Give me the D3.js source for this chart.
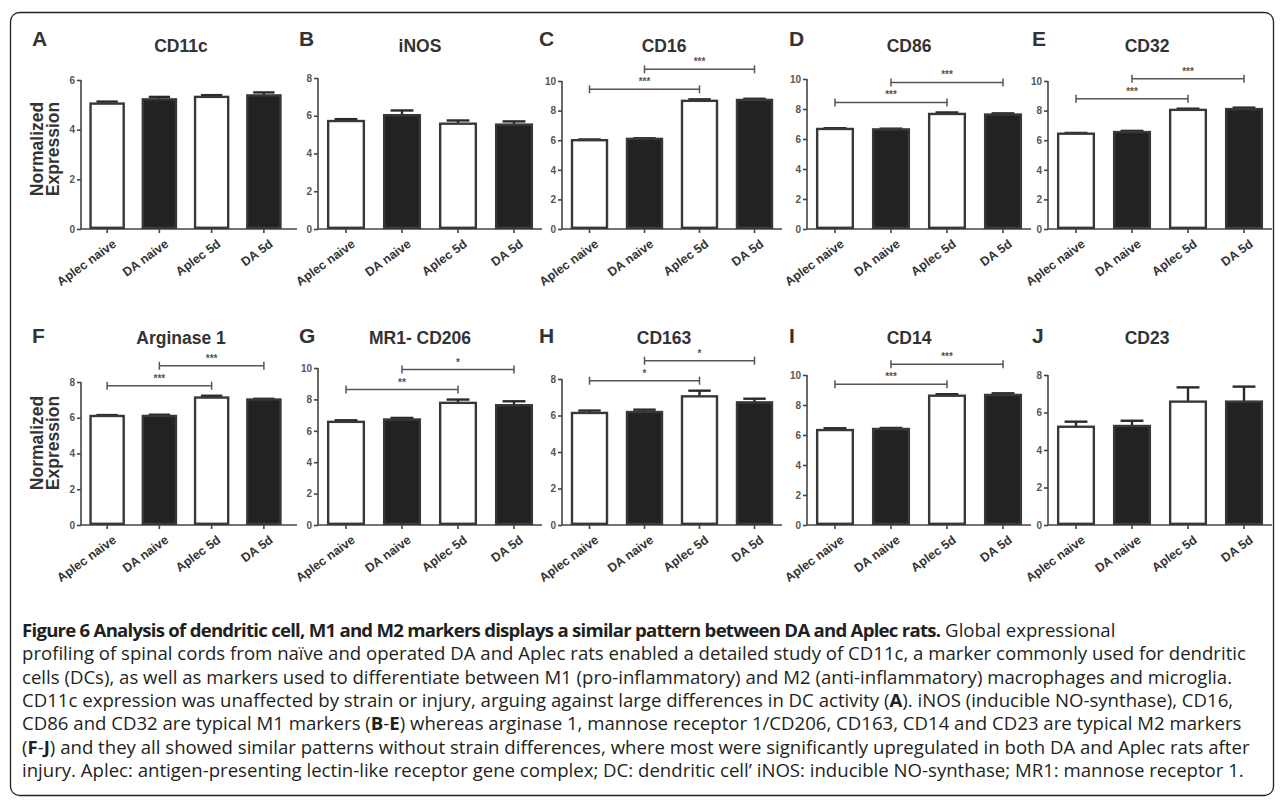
<!DOCTYPE html>
<html>
<head>
<meta charset="utf-8">
<script src="https://cdn.jsdelivr.net/npm/d3@7"></script>
<style>
body { margin: 0; background: #fff; }
svg { display: block; }
</style>
</head>
<body>
<svg id="fig" width="1284" height="800"></svg>
<script>
// groups on the x axis of every panel
var groups = ["Aplec naive", "DA naive", "Aplec 5d", "DA 5d"];
var letters = ["A", "B", "C", "D", "E", "F", "G", "H", "I", "J"];
var titles = ["CD11c", "iNOS", "CD16", "CD86", "CD32", "Arginase 1", "MR1- CD206", "CD163", "CD14", "CD23"];
var yMax = [6, 8, 10, 10, 10, 8, 10, 8, 10, 8];

// normalized expression, mean per group
var means = [
  [5.05, 5.22, 5.32, 5.38],
  [5.72, 6.03, 5.58, 5.53],
  [6.00, 6.09, 8.66, 8.72],
  [6.67, 6.64, 7.67, 7.63],
  [6.44, 6.55, 8.05, 8.10],
  [6.10, 6.10, 7.13, 7.02],
  [6.57, 6.72, 7.78, 7.63],
  [6.14, 6.19, 7.05, 6.72],
  [6.33, 6.40, 8.62, 8.67],
  [5.24, 5.28, 6.58, 6.58]
];
// error bar (upper half only)
var errs = [
  [0.08, 0.10, 0.07, 0.12],
  [0.10, 0.25, 0.17, 0.17],
  [0.05, 0.04, 0.10, 0.08],
  [0.05, 0.05, 0.10, 0.08],
  [0.05, 0.08, 0.08, 0.10],
  [0.05, 0.07, 0.10, 0.04],
  [0.10, 0.10, 0.21, 0.25],
  [0.13, 0.13, 0.31, 0.20],
  [0.12, 0.07, 0.10, 0.11],
  [0.27, 0.28, 0.76, 0.80]
];
// significance: Aplec naive vs Aplec 5d, DA naive vs DA 5d
var sigLow  = ["", "", "***", "***", "***", "***", "**", "*", "***", ""];
var sigHigh = ["", "", "***", "***", "***", "***", "*",  "*", "***", ""];

var caption = [
  "**Figure 6 Analysis of dendritic cell, M1 and M2 markers displays a similar pattern between DA and Aplec rats.** Global expressional",
  "profiling of spinal cords from naïve and operated DA and Aplec rats enabled a detailed study of CD11c, a marker commonly used for dendritic",
  "cells (DCs), as well as markers used to differentiate between M1 (pro-inflammatory) and M2 (anti-inflammatory) macrophages and microglia.",
  "CD11c expression was unaffected by strain or injury, arguing against large differences in DC activity (**A**). iNOS (inducible NO-synthase), CD16,",
  "CD86 and CD32 are typical M1 markers (**B**-**E**) whereas arginase 1, mannose receptor 1/CD206, CD163, CD14 and CD23 are typical M2 markers",
  "(**F**-**J**) and they all showed similar patterns without strain differences, where most were significantly upregulated in both DA and Aplec rats after",
  "injury. Aplec: antigen-presenting lectin-like receptor gene complex; DC: dendritic cell’ iNOS: inducible NO-synthase; MR1: mannose receptor 1."
];

// layout of the 5 x 2 grid
var colX0 = [81, 318, 562, 807, 1048],
    colBandEnd = [290, 542, 782, 1031, 1272],
    colAxisEnd = [297, 542, 782, 1031, 1272],
    colTitle = [181, 420, 664, 909, 1147],
    colLetter = [32, 299, 539, 789, 1032];
var rowBase = [229, 525];
var yTop = [80, 78, 81, 79, 81, 382, 368, 379, 375, 375];

var font = "'Liberation Sans', Arial, Helvetica, sans-serif";
var ink = "#333";

var svg = d3.select("#fig");

svg.append("rect")
  .attr("x", 10.5).attr("y", 12.5)
  .attr("width", 1263).attr("height", 783)
  .attr("rx", 9)
  .attr("fill", "none")
  .attr("stroke", "#222")
  .attr("stroke-width", 1.3);

letters.forEach(function(letter, p) {
  var col = p % 5, row = Math.floor(p / 5);
  var base = rowBase[row];

  var x = d3.scaleBand()
    .domain(groups)
    .range([colX0[col], colBandEnd[col]])
    .paddingInner(0.32)
    .paddingOuter(0.16);

  var y = d3.scaleLinear()
    .domain([0, yMax[p]])
    .range([base, yTop[p]]);

  var g = svg.append("g").attr("class", "panel");

  // panel letter and title
  g.append("text")
    .attr("x", colLetter[col])
    .attr("y", base - 183 + (row == 1 ? 1 : 0))
    .attr("font-family", font).attr("font-weight", "bold")
    .attr("font-size", 21).attr("fill", ink)
    .text(letter);

  g.append("text")
    .attr("x", colTitle[col])
    .attr("y", base - 177 - (row == 1 ? 4 : 0))
    .attr("text-anchor", "middle")
    .attr("font-family", font).attr("font-weight", "bold")
    .attr("font-size", 17.5).attr("fill", ink)
    .text(titles[p]);

  // y axis
  var yAxis = d3.axisLeft(y)
    .tickValues(d3.range(0, yMax[p] + 1, 2))
    .tickSize(4)
    .tickPadding(2)
    .tickFormat(d3.format("d"));

  var ya = g.append("g")
    .attr("transform", "translate(" + colX0[col] + ",0)")
    .call(yAxis);
  ya.select(".domain").attr("d", "M0," + base + "V" + yTop[p]);

  // x axis line and ticks
  g.append("line")
    .attr("x1", colX0[col]).attr("x2", colAxisEnd[col])
    .attr("y1", base).attr("y2", base);

  var xa = g.append("g")
    .attr("transform", "translate(0," + base + ")")
    .call(d3.axisBottom(x).tickSize(4).tickPadding(0));
  xa.select(".domain").remove();
  xa.selectAll(".tick text")
    .attr("text-anchor", "end")
    .attr("transform", "translate(5,10) rotate(-36)")
    .attr("dy", "0.35em")
    .attr("font-size", 12.5)
    .attr("fill", ink);

  g.selectAll(".tick text")
    .attr("font-family", font).attr("font-weight", "bold");
  ya.selectAll(".tick text").attr("font-size", 10).attr("fill", "#555");
  g.selectAll(".tick line, .domain, line")
    .attr("stroke", "#444").attr("stroke-width", 1.6);

  var bars = groups.map(function(grp, i) {
    return {grp: grp, i: i, v: means[p][i], e: errs[p][i]};
  });

  // error bars (drawn first, bar covers the lower part)
  var eb = g.selectAll(".err").data(bars).enter().append("g").attr("class", "err");
  eb.append("line")
    .attr("x1", function(d) { return x(d.grp) + x.bandwidth() / 2; })
    .attr("x2", function(d) { return x(d.grp) + x.bandwidth() / 2; })
    .attr("y1", function(d) { return y(d.v); })
    .attr("y2", function(d) { return y(d.v + d.e); });
  eb.append("line")
    .attr("x1", function(d) { return x(d.grp) + x.bandwidth() * 0.2; })
    .attr("x2", function(d) { return x(d.grp) + x.bandwidth() * 0.8; })
    .attr("y1", function(d) { return y(d.v + d.e); })
    .attr("y2", function(d) { return y(d.v + d.e); });
  eb.selectAll("line").attr("stroke", "#2a2a2a").attr("stroke-width", 2.4);

  g.selectAll(".bar").data(bars).enter().append("rect")
    .attr("class", "bar")
    .attr("x", function(d) { return x(d.grp) + 1.2; })
    .attr("width", x.bandwidth() - 2.4)
    .attr("y", function(d) { return y(d.v); })
    .attr("height", function(d) { return base - y(d.v) - 1.2; })
    .attr("fill", function(d) { return d.i % 2 ? "#222" : "#fff"; })
    .attr("stroke", "#383838")
    .attr("stroke-width", 2.4);

  // significance brackets
  function bracket(label, a, b, yy) {
    var xa0 = x(groups[a]) + x.bandwidth() / 2,
        xb0 = x(groups[b]) + x.bandwidth() / 2;
    var s = g.append("g").attr("stroke", "#555").attr("stroke-width", 1.5);
    s.append("line").attr("x1", xa0).attr("x2", xb0).attr("y1", yy).attr("y2", yy);
    s.append("line").attr("x1", xa0).attr("x2", xa0).attr("y1", yy - 4).attr("y2", yy + 4);
    s.append("line").attr("x1", xb0).attr("x2", xb0).attr("y1", yy - 4).attr("y2", yy + 4);
    g.append("text")
      .attr("x", (xa0 + xb0) / 2).attr("y", yy - 4)
      .attr("text-anchor", "middle")
      .attr("font-family", font).attr("font-weight", "bold")
      .attr("font-size", 10).attr("fill", "#555")
      .text(label);
  }
  if (sigLow[p]) {
    var topLow = d3.max([0, 1, 2], function(i) { return means[p][i] + errs[p][i]; });
    var yLow = y(topLow) - 10;
    bracket(sigLow[p], 0, 2, yLow);
    bracket(sigHigh[p], 1, 3, yLow - 20);
  }
});

// y axis titles, first column
rowBase.forEach(function(base, row) {
  var t = svg.append("text")
    .attr("transform", "translate(43," + (base - 80 - (row == 1 ? 2 : 0)) + ") rotate(-90)")
    .attr("text-anchor", "middle")
    .attr("font-family", font).attr("font-weight", "bold")
    .attr("font-size", 17.5).attr("fill", ink);
  t.append("tspan").attr("x", 0).attr("dy", 0).text("Normalized");
  t.append("tspan").attr("x", 0).attr("dy", 16).text("Expression");
});

// caption
var cap = svg.append("g")
  .attr("font-family", "'Open Sans', 'Noto Sans', sans-serif")
  .attr("font-size", 18.6)
  .attr("fill", "#231f20");
caption.forEach(function(line, i) {
  var t = cap.append("text").attr("x", 22).attr("y", 637 + i * 23.3);
  line.split("**").forEach(function(part, k) {
    if (!part) return;
    t.append("tspan")
      .attr("font-weight", k % 2 ? "bold" : "normal")
      .attr("letter-spacing", k % 2 && part.length > 5 ? -0.75 : null)
      .text(part);
  });
});
</script>
</body>
</html>
